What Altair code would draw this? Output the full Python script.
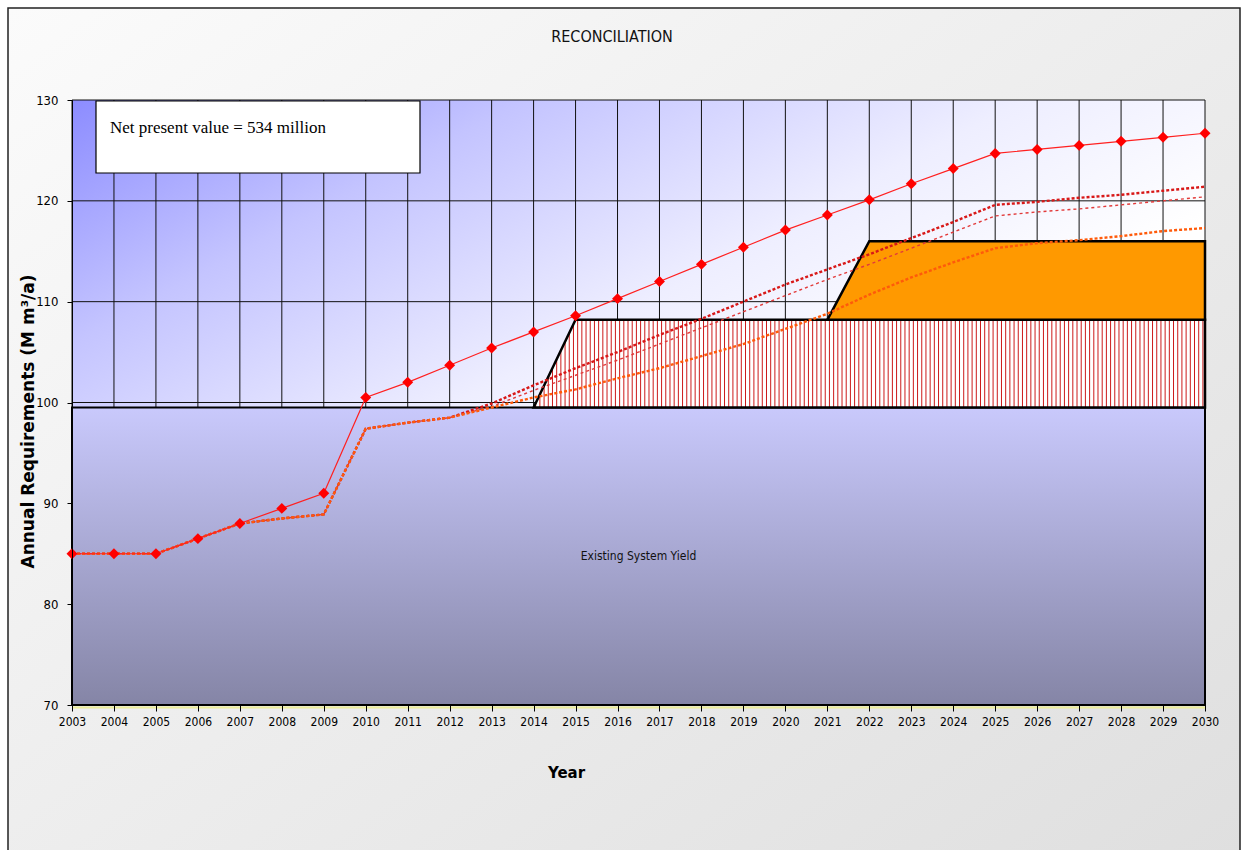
import altair as alt
import numpy as np
import pandas as pd

# ---- data ---------------------------------------------------------------
years = list(range(2003, 2031))

# high demand projection (solid line with markers)
high_demand = [85.0, 85.0, 85.0, 86.5, 88.0, 89.5, 91.0, 100.5, 102.0, 103.7,
               105.4, 107.0, 108.6, 110.3, 112.0, 113.7, 115.4, 117.1, 118.6,
               120.1, 121.7, 123.2, 124.7, 125.1, 125.5, 125.9, 126.3, 126.7]

# alternative demand scenarios (shared history up to 2012)
history = [85.0, 85.0, 85.0, 86.5, 88.0, 88.5, 88.9, 97.4, 98.0, 98.5]
scenario_a = history + [99.9, 101.7, 103.4, 105.0, 106.7, 108.3, 110.0, 111.7, 113.2,
                        114.7, 116.3, 117.9, 119.6, 119.9, 120.3, 120.6, 121.0, 121.4]
scenario_b = history + [99.6, 101.2, 102.7, 104.2, 105.8, 107.4, 109.0, 110.6, 112.2,
                        113.7, 115.3, 116.9, 118.5, 118.9, 119.2, 119.6, 120.0, 120.4]
scenario_c = history + [99.5, 100.5, 101.3, 102.4, 103.4, 104.6, 105.8, 107.3, 108.8,
                        110.7, 112.4, 113.9, 115.3, 115.8, 116.1, 116.5, 117.0, 117.3]

# supply
existing_yield = 99.5
tranche1_years = [2014, 2015, 2030]
tranche1_top = [99.5, 108.2, 108.2]
tranche2_years = [2021, 2022, 2030]
tranche2_top = [108.2, 116.0, 116.0]

y_ticks = [70, 80, 90, 100, 110, 120, 130]

# ---- styling ------------------------------------------------------------
NARROW = "Liberation Sans Narrow, DejaVu Sans Condensed, Arial Narrow, sans-serif"

x_scale = alt.Scale(domain=[years[0], years[-1]], nice=False, zero=False)
y_scale = alt.Scale(domain=[y_ticks[0], y_ticks[-1]], nice=False, zero=False)

x_axis = alt.Axis(values=years, format="d", grid=False, zindex=1,
                  labelOverlap=False, labelBound=False, labelFlush=False,
                  labelFont=NARROW, labelFontSize=12, labelColor="black",
                  labelPadding=5, tickColor="black", tickSize=6,
                  domainColor="black", domainWidth=1,
                  title="Year", titleFont="DejaVu Sans", titleFontSize=15,
                  titleFontWeight="bold", titleColor="black",
                  titleX=494, titleY=67, titleBaseline="middle", titleAlign="center")
y_axis = alt.Axis(values=y_ticks, grid=False, zindex=1, labelOverlap=False,
                  labelFont=NARROW, labelFontSize=13, labelColor="black",
                  labelPadding=9, tickColor="black", tickSize=5,
                  domainColor="black", domainWidth=1,
                  title="Annual Requirements (M m\u00b3/a)", titleFont="DejaVu Sans",
                  titleFontSize=17, titleFontWeight="bold", titleColor="black",
                  titleX=-44, titleY=321, titleAngle=270,
                  titleBaseline="middle", titleAlign="center")


def X(field):
    return alt.X(field, type="quantitative", scale=x_scale, axis=x_axis)


def Y(field):
    return alt.Y(field, type="quantitative", scale=y_scale, axis=y_axis)


one = pd.DataFrame({"k": [0]})

# outer frame with a soft grey gradient
frame = alt.Chart(one).mark_rect(
    fill=alt.Gradient(gradient="linear", x1=0, y1=0, x2=1, y2=1,
                      stops=[alt.GradientStop(color="#fbfbfb", offset=0),
                             alt.GradientStop(color="#dedede", offset=1)]),
    stroke="#222222", strokeWidth=1.5,
).encode(x=alt.value(-64), x2=alt.value(1168), y=alt.value(-92), y2=alt.value(820))

# plot area background
bg_df = pd.DataFrame({"x0": [years[0]], "x1": [years[-1]],
                      "y0": [y_ticks[0]], "y1": [y_ticks[-1]]})
plot_bg = alt.Chart(bg_df).mark_rect(
    fill=alt.Gradient(gradient="linear", x1=0, y1=0, x2=1, y2=1,
                      stops=[alt.GradientStop(color="#8c8cff", offset=0),
                             alt.GradientStop(color="#c4c4ff", offset=0.2),
                             alt.GradientStop(color="#eeeeff", offset=0.42),
                             alt.GradientStop(color="#ffffff", offset=0.6)]),
).encode(x=X("x0"), x2="x1", y=Y("y1"), y2="y0")

# grid lines
vgrid = alt.Chart(pd.DataFrame({"year": years, "lo": y_ticks[0], "hi": y_ticks[-1]})).mark_rule(
    color="#111111", strokeWidth=1).encode(x=X("year"), y=Y("lo"), y2="hi")
hgrid = alt.Chart(pd.DataFrame({"v": y_ticks, "x0": years[0], "x1": years[-1]})).mark_rule(
    color="#111111", strokeWidth=1).encode(y=Y("v"), x=X("x0"), x2="x1")

# existing system yield
ey_df = pd.DataFrame({"year": years, "top": existing_yield, "base": y_ticks[0]})
ey_area = alt.Chart(ey_df).mark_area(
    fill=alt.Gradient(gradient="linear", x1=0, y1=0, x2=0, y2=1,
                      stops=[alt.GradientStop(color="#c9c9fc", offset=0),
                             alt.GradientStop(color="#8585a6", offset=1)]),
    stroke="black", strokeWidth=2,
).encode(x=X("year"), y=Y("top"), y2="base")

# first augmentation tranche (hatched)
t1_df = pd.DataFrame({"year": tranche1_years, "top": tranche1_top, "base": existing_yield})
t1_fill = alt.Chart(t1_df).mark_area(fill="white").encode(x=X("year"), y=Y("top"), y2="base")
hatch_x = np.arange(tranche1_years[0] + 0.05, tranche1_years[-1], 0.1)
hatch_df = pd.DataFrame({"x": hatch_x,
                         "top": np.interp(hatch_x, tranche1_years, tranche1_top),
                         "base": existing_yield})
t1_hatch = alt.Chart(hatch_df).mark_rule(color="#cc1a1a", strokeWidth=1).encode(
    x=X("x"), y=Y("top"), y2="base")
t1_outline = alt.Chart(t1_df).mark_area(fill=None, stroke="black", strokeWidth=2.5).encode(
    x=X("year"), y=Y("top"), y2="base")

# second augmentation tranche
t2_df = pd.DataFrame({"year": tranche2_years, "top": tranche2_top, "base": tranche1_top[-1]})
t2_area = alt.Chart(t2_df).mark_area(fill="#ff9900", stroke="black", strokeWidth=2.5).encode(
    x=X("year"), y=Y("top"), y2="base")

# demand scenario lines
scenario_styles = [
    (scenario_b, "#e23a3a", [3, 3], 1.4),
    (scenario_a, "#d81818", [3, 2], 2.4),
    (scenario_c, "#ff5a0a", [3, 2], 2.4),
]
scenario_layers = []
for values, colour, dash, width in scenario_styles:
    df = pd.DataFrame({"year": years, "value": values})
    scenario_layers.append(
        alt.Chart(df).mark_line(color=colour, strokeDash=dash, strokeWidth=width).encode(
            x=X("year"), y=Y("value")))

hd_df = pd.DataFrame({"year": years, "value": high_demand})
hd_line = alt.Chart(hd_df).mark_line(color="#ff2020", strokeWidth=1.2).encode(
    x=X("year"), y=Y("value"))
hd_points = alt.Chart(hd_df).mark_point(shape="diamond", filled=True, color="#ff0000",
                                        size=120, opacity=1).encode(x=X("year"), y=Y("value"))

# faint yellow line under the category axis
base_line = alt.Chart(pd.DataFrame({"x0": [years[0]], "x1": [years[-1]], "y": [y_ticks[0]]})).mark_rule(
    color="#eded9a", strokeWidth=2, yOffset=2.5).encode(x=X("x0"), x2="x1", y=Y("y"))

# labels
ey_label = alt.Chart(pd.DataFrame({"x": [(years[0] + years[-1]) / 2],
                                   "y": [(y_ticks[0] + existing_yield) / 2]})).mark_text(
    text="Existing System Yield", font=NARROW, fontSize=12, color="#111111",
    align="center", baseline="middle").encode(x=X("x"), y=Y("y"))

npv_box = alt.Chart(one).mark_rect(fill="white", stroke="black", strokeWidth=1.2).encode(
    x=alt.value(24), x2=alt.value(348), y=alt.value(1), y2=alt.value(73))
npv_text = alt.Chart(one).mark_text(
    text="Net present value = 534 million", font="Liberation Serif", fontSize=17,
    color="black", align="left", baseline="alphabetic").encode(x=alt.value(38), y=alt.value(33))

title = alt.Chart(one).mark_text(
    text="RECONCILIATION", font=NARROW, fontSize=16, color="#111111",
    align="center", baseline="middle").encode(x=alt.value(540), y=alt.value(-63))

chart = alt.layer(
    frame, plot_bg, vgrid, hgrid, ey_area, t1_fill, t1_hatch, t1_outline, t2_area,
    *scenario_layers, hd_line, hd_points, base_line, ey_label, npv_box, npv_text, title,
).properties(
    width=1133, height=605, autosize="none",
    padding={"left": 72, "top": 100, "right": 39, "bottom": 145},
    background="white",
).configure_view(stroke=None)

chart.save("out.html", embed_options={"renderer": "svg", "actions": False})
